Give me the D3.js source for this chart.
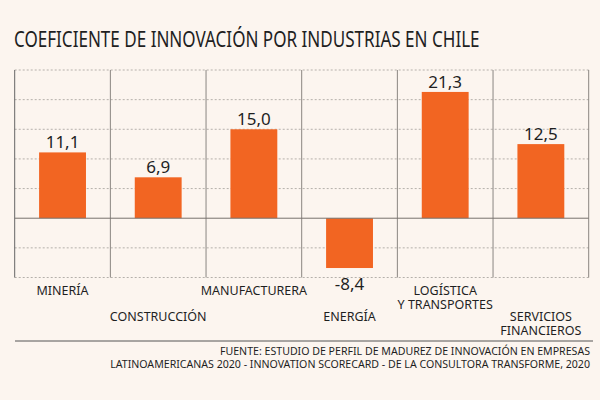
<!DOCTYPE html>
<meta charset="utf-8">
<script src="https://d3js.org/d3.v7.min.js"></script>
<style>
  body { margin: 0; background: #fcf5ef; }
  text { font-family: "Noto Sans", sans-serif; fill: #1f1f1f; }
</style>
<div id="chart"></div>
<script>

// data
var categories = ["MINERÍA", "CONSTRUCCIÓN", "MANUFACTURERA", "ENERGÍA", "LOGÍSTICA\nY TRANSPORTES", "SERVICIOS\nFINANCIEROS"];
var values = [11.1, 6.9, 15.0, -8.4, 21.3, 12.5];
var yTicks = [-10, -5, 0, 5, 10, 15, 20, 25];
var title = "COEFICIENTE DE INNOVACIÓN POR INDUSTRIAS EN CHILE";
var source = ["FUENTE: ESTUDIO DE PERFIL DE MADUREZ DE INNOVACIÓN EN EMPRESAS",
              "LATINOAMERICANAS 2020 - INNOVATION SCORECARD - DE LA CONSULTORA TRANSFORME, 2020"];

var width = 600, height = 400;

var svg = d3.select("#chart")
  .append("svg")
    .attr("width", width)
    .attr("height", height)
    .style("background", "#fcf5ef");

// scales
var x = d3.scaleBand()
    .domain(categories)
    .range([14.7, 588.7]);

var y = d3.scaleLinear()
    .domain([-10, 25])
    .range([277.5, 70]);

var fmt = function(v) { return d3.format(".1f")(v).replace(".", ",").replace("−", "-"); };

// title, squeezed horizontally to look condensed
var t = svg.append("text")
    .style("font-size", "22px")
    .text(title);
var tw = t.node().getComputedTextLength();
t.attr("transform", "translate(14,47) scale(" + (466 / tw) + ",1)");

// horizontal dashed grid
svg.append("g")
  .selectAll("line")
  .data(yTicks.filter(function(d) { return d != 0; }))
  .enter().append("line")
    .attr("x1", x.range()[0])
    .attr("x2", x.range()[1])
    .attr("y1", function(d) { return y(d); })
    .attr("y2", function(d) { return y(d); })
    .attr("stroke", "#b5b0ab")
    .attr("stroke-width", 1)
    .attr("stroke-dasharray", "2,2");

// vertical separators
var edges = categories.map(function(c) { return x(c); }).concat([x.range()[1]]);
svg.append("g")
  .selectAll("line")
  .data(edges)
  .enter().append("line")
    .attr("x1", function(d) { return d; })
    .attr("x2", function(d) { return d; })
    .attr("y1", y(25))
    .attr("y2", y(-10))
    .attr("stroke", function(d, i) { return i == 0 ? "#666" : "#8a8681"; })
    .attr("stroke-width", 1);

// bars
var barW = x.bandwidth() * 0.49;
svg.append("g")
  .selectAll("rect")
  .data(values)
  .enter().append("rect")
    .attr("x", function(d, i) { return x(categories[i]) + (x.bandwidth() - barW) / 2; })
    .attr("y", function(d) { return y(Math.max(0, d)); })
    .attr("width", barW)
    .attr("height", function(d) { return Math.abs(y(d) - y(0)); })
    .attr("fill", "#f26522");

// zero line
svg.append("line")
    .attr("x1", x.range()[0])
    .attr("x2", x.range()[1])
    .attr("y1", y(0))
    .attr("y2", y(0))
    .attr("stroke", "#77726d")
    .attr("stroke-width", 1);

// value labels
svg.append("g")
  .selectAll("text")
  .data(values)
  .enter().append("text")
    .attr("x", function(d, i) { return x(categories[i]) + x.bandwidth() / 2; })
    .attr("y", function(d) { return d >= 0 ? y(d) - 4 : y(d) + 22; })
    .attr("text-anchor", "middle")
    .style("font-size", "17px")
    .text(function(d) { return fmt(d); });

// category labels, alternating rows
svg.append("g")
  .selectAll("g")
  .data(categories)
  .enter().append("g")
    .attr("transform", function(d, i) {
      return "translate(" + (x(d) + x.bandwidth() / 2) + "," + (i % 2 == 0 ? 294.5 : 320.5) + ")";
    })
  .selectAll("text")
  .data(function(d) { return d.split("\n"); })
  .enter().append("text")
    .attr("text-anchor", "middle")
    .attr("y", function(d, j) { return j * 14.5; })
    .style("font-size", "12.5px")
    .text(function(d) { return d; });

// footer rule
svg.append("line")
    .attr("x1", 15)
    .attr("x2", 593)
    .attr("y1", 341)
    .attr("y2", 341)
    .attr("stroke", "#555")
    .attr("stroke-width", 1);

// source
svg.append("g")
  .selectAll("text")
  .data(source)
  .enter().append("text")
    .attr("x", 590)
    .attr("y", function(d, i) { return 355 + i * 13; })
    .attr("text-anchor", "end")
    .style("font-size", "10.6px")
    .text(function(d) { return d; });

</script>
